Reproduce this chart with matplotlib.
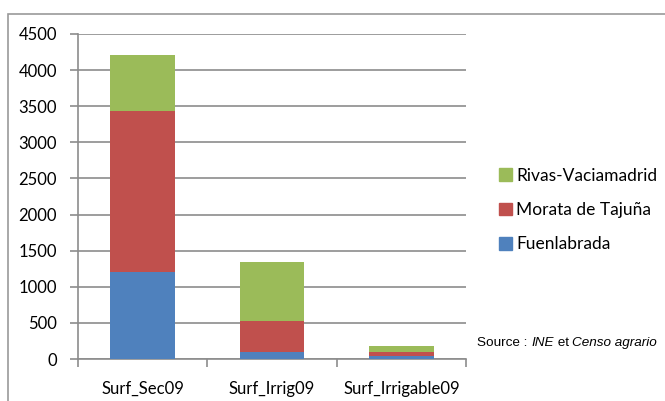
import matplotlib.pyplot as plt
from matplotlib.patches import Rectangle, Patch

categories = ['Surf_Sec09', 'Surf_Irrig09', 'Surf_Irrigable09']
fuenlabrada = [1210, 95, 40]
morata = [2225, 430, 55]
rivas = [780, 820, 90]

blue = '#4F81BD'
red = '#C0504D'
green = '#9BBB59'

plt.rcParams['font.family'] = ['Lato', 'DejaVu Sans']

fig = plt.figure(figsize=(6.65, 4.01), dpi=100)

# cadre gris autour du graphique
fig.patches.append(Rectangle((8 / 665, -0.1), 1.2, 1 - 14 / 401 + 0.1,
                             transform=fig.transFigure, fill=False,
                             edgecolor='#9a9a9a', linewidth=1.2))

ax = fig.add_axes([78 / 665, 1 - 359 / 401, 388 / 665, 325 / 401])

x = range(len(categories))
bottom2 = [a + b for a, b in zip(fuenlabrada, morata)]
ax.bar(x, fuenlabrada, width=0.5, color=blue, zorder=3)
ax.bar(x, morata, width=0.5, bottom=fuenlabrada, color=red, zorder=3)
ax.bar(x, rivas, width=0.5, bottom=bottom2, color=green, zorder=3)

ax.set_xlim(-0.5, 2.5)
ax.set_ylim(0, 4500)
ax.set_yticks(range(0, 4501, 500))
ax.grid(axis='y', color='#8c8c8c', linewidth=1.2, zorder=0)

ax.set_xticks(list(x))
ax.set_xticklabels(categories, fontsize=12)
ax.set_xticks([-0.5, 0.5, 1.5, 2.5], minor=True)
ax.tick_params(axis='x', which='major', length=0, pad=16)
ax.tick_params(axis='x', which='minor', length=6, color='#8c8c8c', width=1.2)
ax.tick_params(axis='y', length=6, color='#8c8c8c', width=1.2, labelsize=12, pad=9)

for s in ['top', 'right']:
    ax.spines[s].set_visible(False)
for s in ['left', 'bottom']:
    ax.spines[s].set_color('#8c8c8c')
    ax.spines[s].set_linewidth(1.2)

handles = [Patch(color=green, label='Rivas-Vaciamadrid'),
           Patch(color=red, label='Morata de Tajuña'),
           Patch(color=blue, label='Fuenlabrada')]
fig.legend(handles=handles, loc='center left', bbox_to_anchor=(483 / 665, 1 - 210 / 401),
           frameon=False, fontsize=12.5, handlelength=0.75, handleheight=0.75,
           handletextpad=0.25, labelspacing=1.05)

# texte de la source, avec les parties en italique
fig.canvas.draw()
r = fig.canvas.get_renderer()
xpos = 477
for part, style in [('Source : ', 'normal'), ('INE', 'italic'), (' et ', 'normal'),
                    ('Censo agrario', 'italic')]:
    t = fig.text(xpos / 665, 1 - 343 / 401, part, fontsize=9.7, family='Liberation Sans',
                 style=style, va='center')
    xpos += t.get_window_extent(r).width

fig.savefig('out.png', dpi=100)
